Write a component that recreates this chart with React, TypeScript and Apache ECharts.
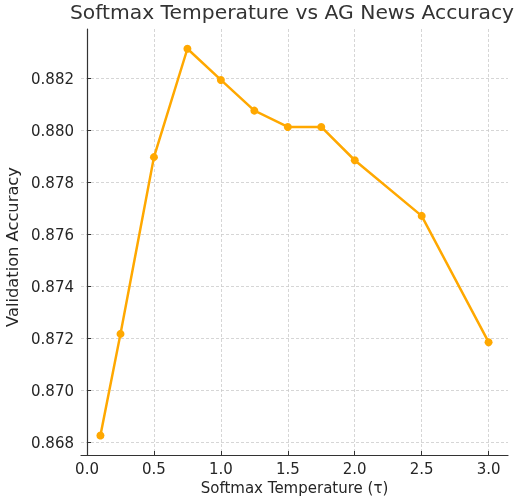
import React, { useEffect, useRef } from "react";
import * as echarts from "echarts";

const temperatures = [0.1, 0.25, 0.5, 0.75, 1.0, 1.25, 1.5, 1.75, 2.0, 2.5, 3.0];
const accuracy = [0.86827, 0.87218, 0.87898, 0.88315, 0.88195, 0.88077, 0.88014, 0.88014, 0.87886, 0.87672, 0.87186];
const xTicks = [0.0, 0.5, 1.0, 1.5, 2.0, 2.5, 3.0];
const yTicks = [0.868, 0.870, 0.872, 0.874, 0.876, 0.878, 0.880, 0.882];

const FONT = "DejaVu Sans";
const TEXT = "#262626";

export default function App() {
  const ref = useRef<HTMLDivElement>(null);
  useEffect(() => {
    if (!ref.current) return;
    const chart = echarts.init(ref.current, undefined, { renderer: "svg" });
    const gridLine = { show: true, lineStyle: { color: "#cccccc", type: [3, 2], width: 0.8 } };
    chart.setOption({
      animation: false,
      textStyle: { fontFamily: FONT },
      title: {
        text: "Softmax Temperature vs AG News Accuracy",
        left: 292,
        textAlign: "center",
        top: 2,
        padding: 0,
        textStyle: { fontFamily: FONT, fontSize: 20.3, fontWeight: "normal", color: "#333333" },
      },
      grid: { left: 81, right: 11, top: 29, bottom: 42, containLabel: false, outerBoundsMode: "none" },
      xAxis: {
        type: "value",
        min: -0.045,
        max: 3.145,
        name: "Softmax Temperature (τ)",
        nameLocation: "middle",
        nameGap: 23,
        nameTextStyle: { fontFamily: FONT, fontSize: 15, color: TEXT },
        axisLine: { show: true, lineStyle: { color: "#333333", width: 1.2 } },
        axisTick: { show: true, inside: true, length: 4, customValues: xTicks, lineStyle: { color: "#333333" } },
        axisLabel: {
          customValues: xTicks,
          fontFamily: FONT,
          fontSize: 15,
          color: TEXT,
          margin: 6,
          formatter: (v: number) => v.toFixed(1),
        },
        splitLine: gridLine,
      },
      yAxis: {
        type: "value",
        min: 0.86752,
        max: 0.88391,
        name: "Validation Accuracy",
        nameLocation: "middle",
        nameGap: 51,
        nameTextStyle: { fontFamily: FONT, fontSize: 16.3, color: TEXT, padding: [0, 10, 0, 0] },
        axisLine: { show: true, lineStyle: { color: "#333333", width: 1.2 } },
        axisTick: { show: true, inside: true, length: 4, customValues: yTicks, lineStyle: { color: "#333333" } },
        axisLabel: {
          customValues: yTicks,
          fontFamily: FONT,
          fontSize: 15,
          color: TEXT,
          margin: 7,
          formatter: (v: number) => v.toFixed(3),
        },
        splitLine: gridLine,
      },
      series: [
        {
          type: "line",
          data: temperatures.map((t, i) => [t, accuracy[i]]),
          symbol: "circle",
          symbolSize: 8,
          lineStyle: { color: "#FFA800", width: 2.5 },
          itemStyle: { color: "#FFA800" },
        },
      ],
    });
    return () => chart.dispose();
  }, []);
  return <div ref={ref} style={{ width: 519, height: 497, position: "fixed", left: 0, top: 0 }} />;
}
